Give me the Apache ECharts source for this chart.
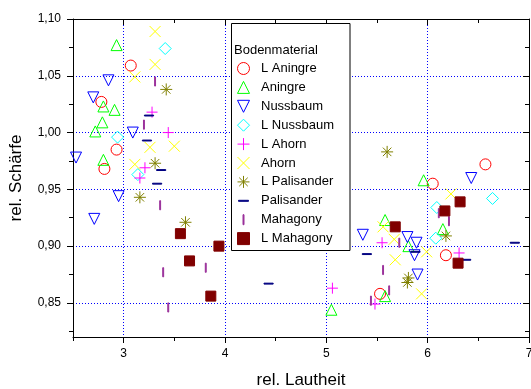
<!DOCTYPE html>
<html>
<head>
<meta charset="utf-8">
<title>rel. Schärfe / rel. Lautheit</title>
<script src="https://cdn.jsdelivr.net/npm/echarts@6/dist/echarts.min.js"></script>
<style>
  html, body { margin: 0; padding: 0; background: #fff; }
  #chart { width: 531px; height: 389px; }
</style>
</head>
<body>
<div id="chart"></div>
<script>
// Messpunkte je Bodenmaterial: [rel. Lautheit, rel. Schärfe]
const materials = ['L Aningre', 'Aningre', 'Nussbaum', 'L Nussbaum', 'L Ahorn', 'Ahorn',
    'L Palisander', 'Palisander', 'Mahagony', 'L Mahagony'];

const lAningre = [[3.07, 1.059], [2.78, 1.027], [2.93, 0.985], [2.81, 0.968], [6.57, 0.972],
    [6.05, 0.955], [6.18, 0.892], [5.53, 0.858]];
const aningre = [[2.93, 1.077], [2.80, 1.023], [2.91, 1.020], [2.79, 1.009], [2.72, 1.001],
    [2.80, 0.976], [5.96, 0.958], [5.58, 0.923], [6.15, 0.915], [5.81, 0.900], [5.58, 0.856], [5.05, 0.844]];
const nussbaum = [[2.85, 1.046], [2.70, 1.031], [3.09, 1.000], [2.53, 0.978], [2.95, 0.944],
    [2.71, 0.924], [6.43, 0.960], [5.36, 0.910], [5.80, 0.908], [5.89, 0.903], [5.87, 0.892], [5.90, 0.875]];
const lNussbaum = [[3.41, 1.074], [2.94, 0.996], [3.14, 0.963], [6.64, 0.942], [6.09, 0.934], [6.08, 0.907]];
const lAhorn = [[3.28, 1.018], [3.44, 1.000], [3.21, 0.969], [3.16, 0.960], [5.06, 0.863],
    [5.55, 0.903], [6.31, 0.894], [5.48, 0.849]];
const ahorn = [[3.31, 1.089], [3.31, 1.060], [3.11, 1.049], [3.26, 0.987], [3.50, 0.988],
    [3.11, 0.972], [6.23, 0.946], [5.56, 0.917], [5.67, 0.906], [5.99, 0.895], [5.68, 0.888], [5.94, 0.858]];
const lPalisander = [[3.42, 1.038], [3.31, 0.973], [3.16, 0.943], [3.61, 0.921], [5.60, 0.983],
    [6.18, 0.909], [5.81, 0.872], [5.80, 0.868]];
const palisander = [[3.25, 1.015], [3.23, 0.993], [3.37, 0.967], [3.33, 0.955], [4.43, 0.867],
    [5.40, 0.893], [5.88, 0.895], [6.38, 0.888], [6.86, 0.903]];
const mahagony = [[3.31, 1.045], [3.20, 1.007], [3.36, 0.936], [3.39, 0.877], [3.81, 0.881],
    [3.44, 0.846], [5.44, 0.852], [5.62, 0.861], [5.56, 0.879], [5.72, 0.903], [6.11, 0.929], [6.21, 0.922]];
const lMahagony = [[3.56, 0.911], [3.94, 0.900], [3.65, 0.887], [3.86, 0.856], [5.68, 0.917],
    [6.17, 0.931], [6.32, 0.939], [6.30, 0.885]];

const xMajorTicks = [3, 4, 5, 6, 7];
const xMinorTicks = [2.5, 3.5, 4.5, 5.5, 6.5];
const yMajorTicks = [0.85, 0.90, 0.95, 1.00, 1.05, 1.10];
const yMinorTicks = [0.825, 0.875, 0.925, 0.975, 1.025, 1.075];

const FONT = 'Liberation Sans, Arial, sans-serif';
const NONE = 'rgba(0,0,0,0)';

// Symbole wie in Origin, alle im 12x12-Feld, damit die Legende sie nicht verzerrt
const symbols = {
    circle: 'path://M6,0A6,6,0,1,1,6,12A6,6,0,1,1,6,0Z',
    triUp: 'path://M6,0L12,12L0,12Z',
    triDown: 'path://M0,0L12,0L6,12Z',
    diamond: 'path://M6,0L12,6L6,12L0,6Z',
    plus: 'path://M6,0L6,12M0,6L12,6',
    cross: 'path://M0,0L12,12M12,0L0,12',
    star: 'path://M6,0L6,12M0,6L12,6M1.76,1.76L10.24,10.24M10.24,1.76L1.76,10.24',
    dash: 'path://M0,0L0,0M1,5.5L11,5.5L11,6.5L1,6.5ZM12,12L12,12',
    bar: 'path://M0,0L0,0M5.5,1L6.5,1L6.5,11L5.5,11ZM12,12L12,12',
    square: 'path://M0,0L12,0L12,12L0,12Z'
};

const seriesData = [lAningre, aningre, nussbaum, lNussbaum, lAhorn, ahorn, lPalisander, palisander, mahagony, lMahagony];
const seriesSymbol = ['circle', 'triUp', 'triDown', 'diamond', 'plus', 'cross', 'star', 'dash', 'bar', 'square'];
const seriesColor = ['#ff0000', '#00ff00', '#0000ff', '#00ffff', '#ff00ff', '#ffff00', '#808000', '#000080', '#9a309a', '#800000'];
const seriesFill = [NONE, NONE, NONE, NONE, NONE, NONE, NONE, '#000080', '#9a309a', '#800000'];
const seriesSize = [11, 11, 11, 12, 11, 11, 12, 11, 11, 10];

function xAxisOf(grid, position, ticks, len, inside, main) {
    return {
        gridIndex: grid, type: 'value', position: position, min: 2.5, max: 7,
        name: main ? 'rel. Lautheit' : '',
        nameLocation: 'middle', nameGap: 35,
        nameTextStyle: { fontSize: 17, fontFamily: FONT, color: '#000' },
        axisLine: { show: grid === 0, onZero: false, lineStyle: { color: '#000', width: 1 } },
        axisTick: { show: true, customValues: ticks, length: len, inside: inside, lineStyle: { color: '#000' } },
        axisLabel: { show: main, customValues: ticks, margin: 11, fontSize: 12, fontFamily: FONT, color: '#000',
            formatter: v => String(v) },
        splitLine: { show: main, lineStyle: { color: '#0000ff', width: 1, type: [1, 2] } }
    };
}

function yAxisOf(grid, position, ticks, len, inside, main) {
    return {
        gridIndex: grid, type: 'value', position: position, min: 0.82, max: 1.10,
        name: main ? 'rel. Schärfe' : '',
        nameLocation: 'middle', nameGap: 48,
        nameTextStyle: { fontSize: 17, fontFamily: FONT, color: '#000' },
        axisLine: { show: grid === 0, onZero: false, lineStyle: { color: '#000', width: 1 } },
        axisTick: { show: true, customValues: ticks, length: len, inside: inside, lineStyle: { color: '#000' } },
        axisLabel: { show: main, customValues: ticks, margin: 12, fontSize: 12, fontFamily: FONT, color: '#000',
            formatter: v => v.toFixed(2).replace('.', ',') },
        splitLine: { show: main, lineStyle: { color: '#0000ff', width: 1, type: [1, 2] } }
    };
}

const myChart = echarts.init(document.getElementById('chart'));

const option = {
    animation: false,
    backgroundColor: '#fff',
    grid: [
        { left: 73, right: 2, top: 19, bottom: 52, outerBoundsMode: 'none' },
        { left: 73, right: 2, top: 19, bottom: 52, outerBoundsMode: 'none' }
    ],
    xAxis: [
        xAxisOf(0, 'bottom', xMajorTicks, 6, false, true),
        xAxisOf(0, 'top', xMajorTicks, 6, true, false),
        xAxisOf(1, 'bottom', xMinorTicks, 4, false, false),
        xAxisOf(1, 'top', xMinorTicks, 4, true, false)
    ],
    yAxis: [
        yAxisOf(0, 'left', yMajorTicks, 6, false, true),
        yAxisOf(0, 'right', yMajorTicks, 6, true, false),
        yAxisOf(1, 'left', yMinorTicks, 4, false, false),
        yAxisOf(1, 'right', yMinorTicks, 4, true, false)
    ],
    legend: {
        orient: 'vertical', left: 237, top: 62, padding: 0,
        itemWidth: 25, itemHeight: 12, itemGap: 5.9,
        symbolKeepAspect: true,
        selectedMode: false,
        itemStyle: { borderWidth: 1 },
        textStyle: { fontSize: 13, fontFamily: FONT, color: '#000', lineHeight: 12 },
        data: materials,
        z: 60
    },
    graphic: [
        {
            type: 'rect', z: 50,
            shape: { x: 231.5, y: 23.5, width: 118.5, height: 227 },
            style: { fill: '#fff', stroke: '#000', lineWidth: 1 }
        },
        {
            type: 'text', z: 61, x: 234, y: 50,
            style: { text: 'Bodenmaterial', fontSize: 13, fontFamily: FONT, fill: '#000', verticalAlign: 'middle' }
        }
    ],
    series: materials.map((name, i) => ({
        name: name,
        type: 'scatter',
        xAxisIndex: 0,
        yAxisIndex: 0,
        data: seriesData[i],
        symbol: symbols[seriesSymbol[i]],
        symbolSize: seriesSize[i],
        symbolKeepAspect: true,
        itemStyle: { color: seriesFill[i], borderColor: seriesColor[i], borderWidth: 1, opacity: 1 },
        emphasis: { disabled: true }
    }))
};

myChart.setOption(option);
</script>
</body>
</html>
